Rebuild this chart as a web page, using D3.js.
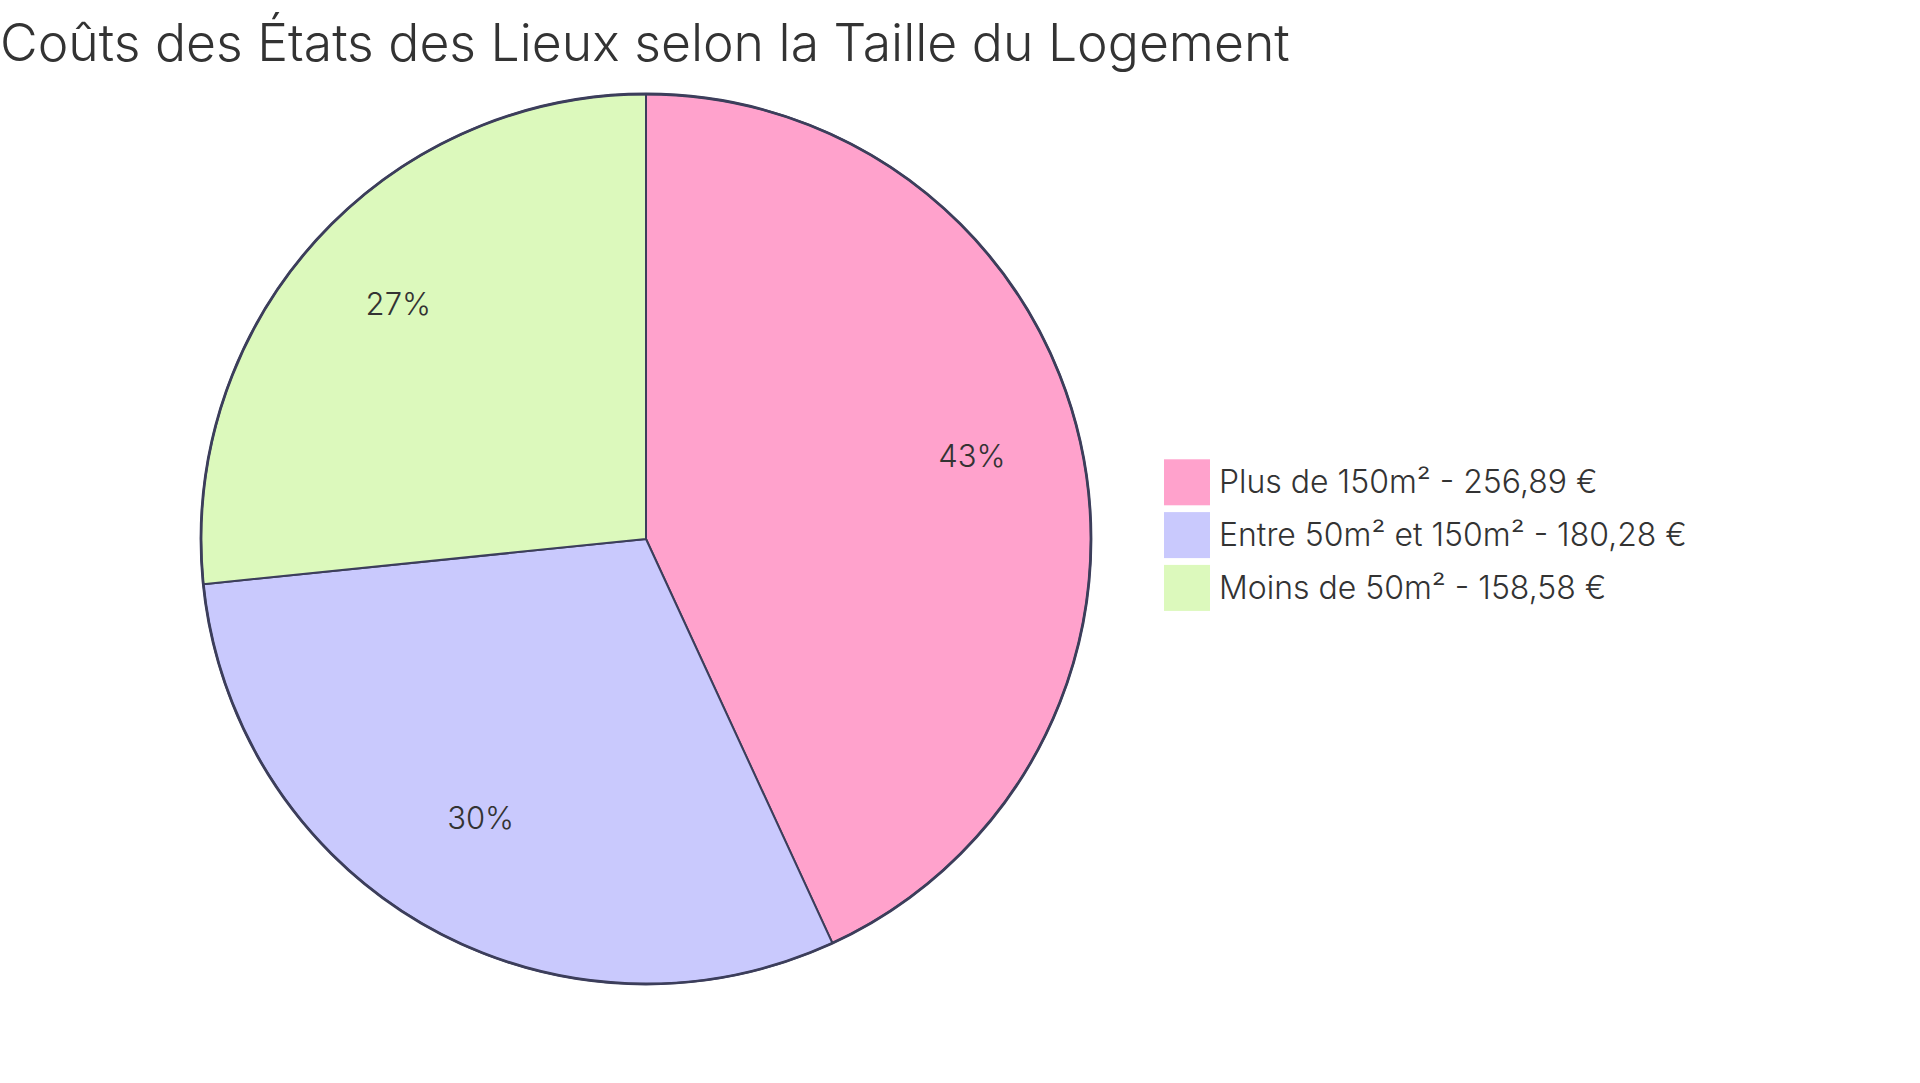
<!DOCTYPE html>
<html lang="fr">
<head>
<meta charset="utf-8">
<script src="https://cdn.jsdelivr.net/npm/d3@7"></script>
<style>
  html, body { margin: 0; padding: 0; background: #ffffff; }
  svg { display: block; }
  text { font-family: Inter, "Open Sans", sans-serif; fill: #333333; font-weight: 300; }
</style>
</head>
<body>
<svg id="chart" width="1920" height="1083"></svg>
<script>
const title = "Coûts des États des Lieux selon la Taille du Logement";
const categories = ["Plus de 150m²", "Entre 50m² et 150m²", "Moins de 50m²"];
const values = [256.89, 180.28, 158.58];
const valueLabels = ["256,89 €", "180,28 €", "158,58 €"];
const colors = ["#ffa2cc", "#c9c9fd", "#dcf9bc"];

const W = 1920, H = 1083;
const cx = 646, cy = 539, R = 445;
const strokeColor = "#3c3e5b";

const svg = d3.select("#chart");
svg.append("rect").attr("width", W).attr("height", H).attr("fill", "#ffffff");

const data = categories.map((c, i) => ({ cat: c, value: values[i], label: valueLabels[i], color: colors[i] }));
const total = d3.sum(values);

const pie = d3.pie().sort(null).value(d => d.value);
const arcs = pie(data);
const arc = d3.arc().innerRadius(0).outerRadius(R);
const labelArc = d3.arc().innerRadius(R * 0.75).outerRadius(R * 0.75);

const g = svg.append("g").attr("transform", `translate(${cx},${cy})`);

g.selectAll("path.slice")
  .data(arcs)
  .join("path")
  .attr("class", "slice")
  .attr("d", arc)
  .attr("fill", d => d.data.color)
  .attr("stroke", strokeColor)
  .attr("stroke-width", 2)
  .attr("stroke-linejoin", "round");

g.append("circle")
  .attr("r", R)
  .attr("fill", "none")
  .attr("stroke", strokeColor)
  .attr("stroke-width", 2.8);

g.selectAll("text.pct")
  .data(arcs)
  .join("text")
  .attr("class", "pct")
  .attr("transform", d => `translate(${labelArc.centroid(d)})`)
  .attr("text-anchor", "middle")
  .attr("font-size", 31)
  .text(d => Math.round(d.data.value / total * 100) + "%");

// Title
const t = svg.append("text")
  .attr("x", 0)
  .attr("y", 60.5)
  .attr("font-size", 52)
  .text(title);
const tw = t.node().getComputedTextLength();
t.attr("font-size", 52 * 1290 / tw);

// Legend
const legendX = 1164, legendY0 = 459.3, step = 52.8, sw = 46;
const lg = svg.append("g");
const rows = lg.selectAll("g.row")
  .data(data)
  .join("g")
  .attr("class", "row")
  .attr("transform", (d, i) => `translate(${legendX},${legendY0 + i * step})`);
rows.append("rect")
  .attr("width", sw).attr("height", sw)
  .attr("fill", d => d.color);
const lt = rows.append("text")
  .attr("x", 55)
  .attr("y", 34)
  .attr("font-size", 32)
  .text(d => `${d.cat} - ${d.label}`);
const maxW = d3.max(lt.nodes(), n => n.getComputedTextLength());
lt.attr("font-size", 32 * 468 / maxW);
</script>
</body>
</html>
